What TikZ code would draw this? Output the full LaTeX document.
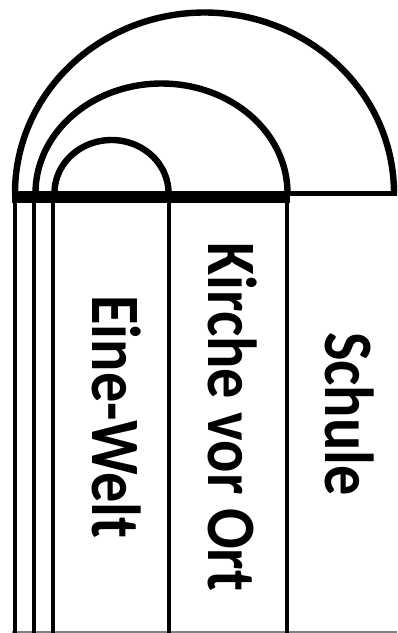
\documentclass[tikz,border=0pt]{standalone}
\usepackage{fontspec}
\setmainfont{Carlito}
\usetikzlibrary{positioning}
\tikzset{
    sphereArc/.style={line width=4.8pt, black, line cap=round},
    pillar/.style={line width=3.5pt, black},
    sphereLabel/.style={
        font=\bfseries\fontsize{52}{60}\selectfont,
        anchor=base,
        inner sep=0pt,
        yscale=0.87, rotate=-90
    }
}
\begin{document}
\begin{tikzpicture}[x=0.75pt, y=-0.75pt]
\useasboundingbox (0,0) rectangle (397,633);

% ground line
\draw[line width=3.75pt] (12,193) -- (397,193);
\draw[line width=8.25pt] (12,197) -- (290,197);
\draw[gray, line width=1.1pt] (12,632) -- (397,632);

% half circles
\draw[sphereArc] plot[domain=180:360, samples=90, smooth] ({204.5+189.5*cos(\x)}, {193+180.5*sin(\x)});
\draw[sphereArc] plot[domain=180:360, samples=90, smooth] ({161.5+126*cos(\x)}, {193+109.5*sin(\x)});
\draw[sphereArc] plot[domain=180:360, samples=90, smooth] ({111.5+57*cos(\x)}, {193+53*sin(\x)});

% pillars
\foreach \px in {15,34,53,169,287}
    \draw[pillar] (\px,200) -- (\px,633);

\node[sphereLabel] (eineWelt) at (92,417) {Eine-Welt};
\node[sphereLabel] (kirche) at (208,417) {Kirche vor Ort};
\node[sphereLabel] (schule) at (325,414) {Schule};
\end{tikzpicture}
\end{document}
